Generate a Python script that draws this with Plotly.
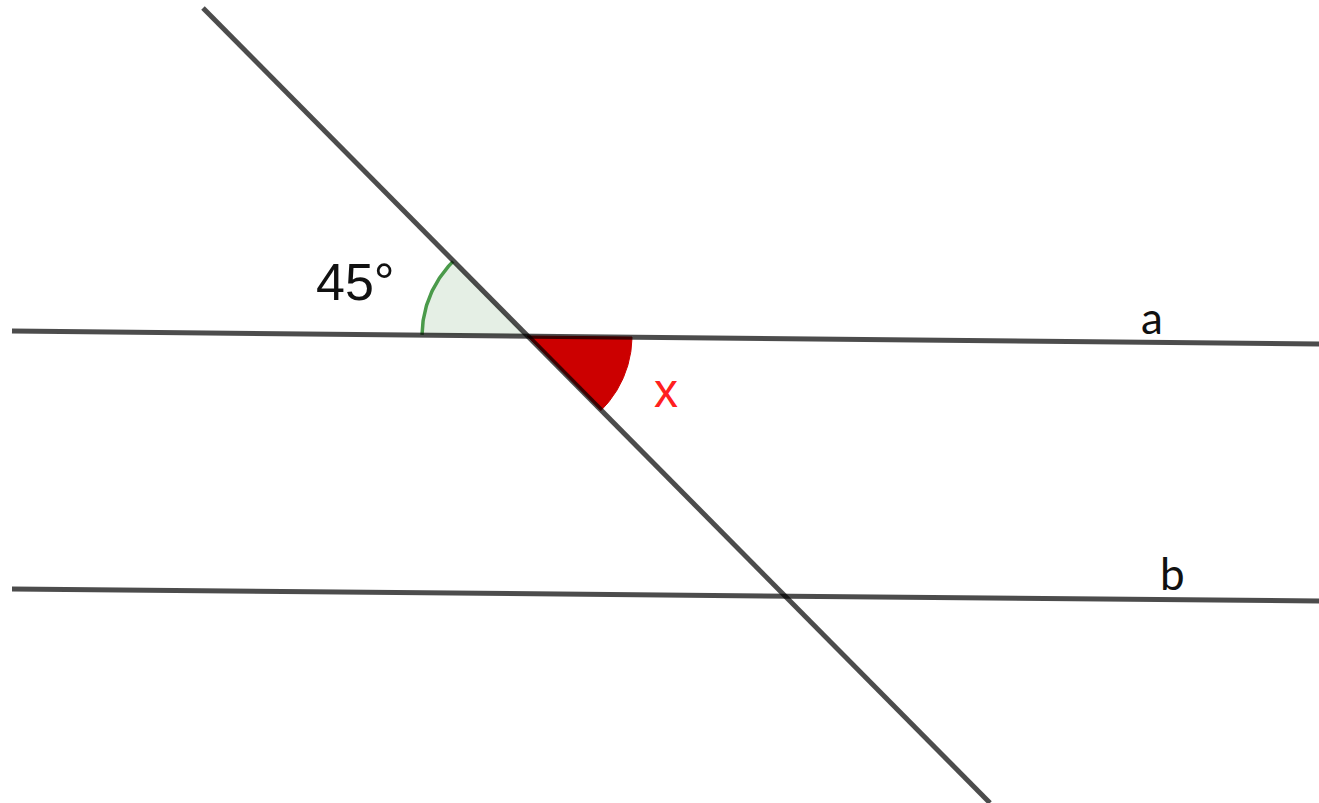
import numpy as np
import plotly.graph_objects as go

W, H = 1319, 803

# Line endpoints (pixel coordinates)
line_a_x = [12, 1319]
line_a_y = [331, 344]
line_b_x = [12, 1319]
line_b_y = [589, 601]
trans_x = [203, 990]
trans_y = [8, 803]

# Angle markers
vertex = (527, 336)
arc_radius = 105
known_angle_label = "45°"
unknown_angle_label = "x"
line_labels = ["a", "b"]

def ang(dx, dy):
    return np.degrees(np.arctan2(dy, dx))

a_dir = ang(line_a_x[1] - line_a_x[0], line_a_y[1] - line_a_y[0])
t_dir = ang(trans_x[1] - trans_x[0], trans_y[1] - trans_y[0])

def wedge(a0, a1, r, c):
    t = np.radians(np.linspace(a0, a1, 60))
    ax = list(c[0] + r * np.cos(t))
    ay = list(c[1] + r * np.sin(t))
    return [c[0]] + ax + [c[0]], [c[1]] + ay + [c[1]], ax, ay

fig = go.Figure()

# green wedge (45 deg)
gx, gy, gax, gay = wedge(a_dir + 180, t_dir + 180, arc_radius, vertex)
fig.add_trace(go.Scatter(x=gx, y=gy, mode="lines", fill="toself",
                         fillcolor="rgba(0,100,0,0.10)", line=dict(width=0),
                         hoverinfo="skip", showlegend=False))
fig.add_trace(go.Scatter(x=gax, y=gay, mode="lines",
                         line=dict(color="#4a9a4a", width=3.5),
                         hoverinfo="skip", showlegend=False))

# red wedge (x)
rx, ry, rax, ray = wedge(a_dir, t_dir, arc_radius, vertex)
fig.add_trace(go.Scatter(x=rx, y=ry, mode="lines", fill="toself",
                         fillcolor="#cc0000", line=dict(color="#cc0000", width=1),
                         hoverinfo="skip", showlegend=False))

# lines
for xs, ys in [(line_a_x, line_a_y), (line_b_x, line_b_y), (trans_x, trans_y)]:
    fig.add_trace(go.Scatter(x=xs, y=ys, mode="lines",
                             line=dict(color="rgba(0,0,0,0.70)", width=5),
                             hoverinfo="skip", showlegend=False))

fig.add_annotation(x=355, y=282, text=known_angle_label, showarrow=False,
                   font=dict(family="Liberation Sans, Arial", size=52, color="#111111"))
fig.add_annotation(x=666, y=390, text=unknown_angle_label, showarrow=False,
                   font=dict(family="Liberation Sans, Arial", size=48, color="#ff2020"))
fig.add_annotation(x=1152, y=317, text=line_labels[0], showarrow=False,
                   font=dict(family="Lato, Liberation Sans", size=44, color="#111111"))
fig.add_annotation(x=1172, y=573, text=line_labels[1], showarrow=False,
                   font=dict(family="Lato, Liberation Sans", size=44, color="#111111"))

fig.update_layout(
    width=W, height=H, margin=dict(l=0, r=0, t=0, b=0),
    paper_bgcolor="white", plot_bgcolor="white",
    xaxis=dict(range=[0, W], visible=False, fixedrange=True),
    yaxis=dict(range=[H, 0], visible=False, fixedrange=True),
)

fig.write_html("out.html", config={"displayModeBar": False},
               post_script="document.body.style.margin='0';document.body.style.overflow='hidden';")
